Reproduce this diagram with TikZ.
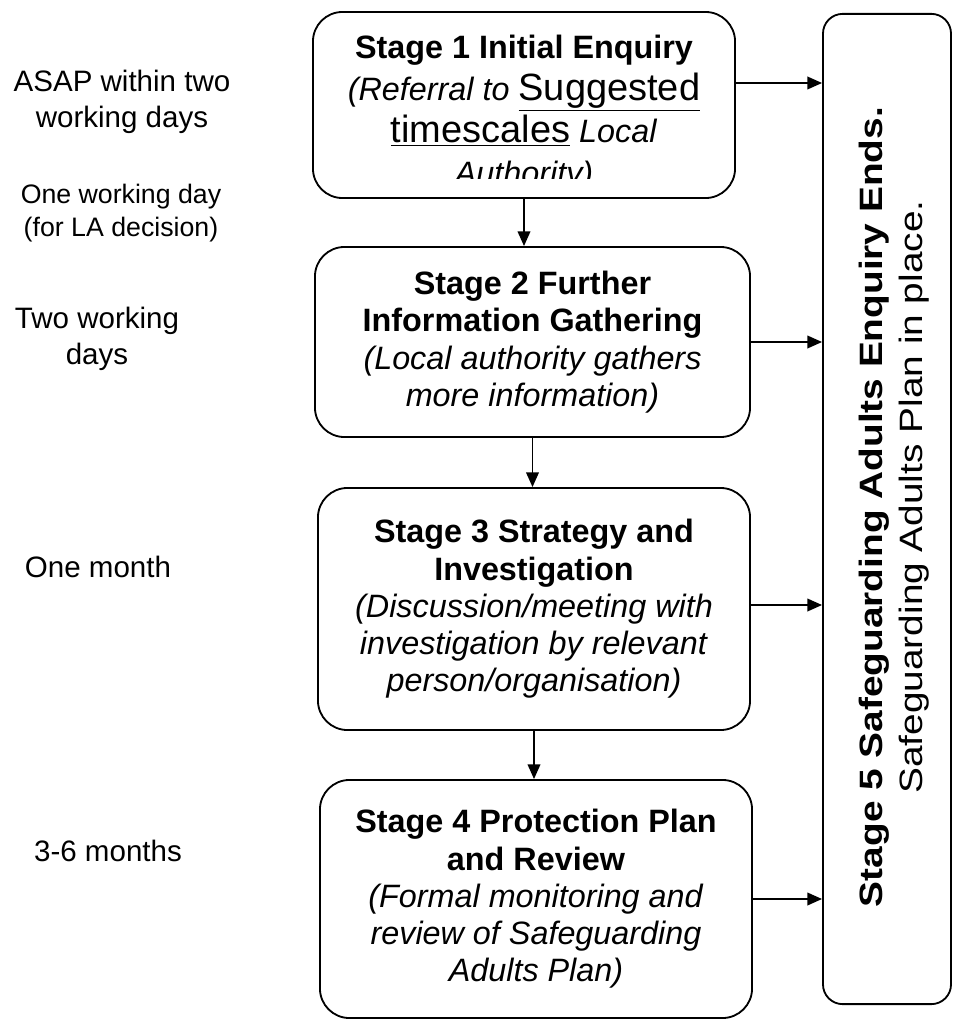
\documentclass[tikz,border=0pt]{standalone}
\usepackage{fontspec}
\setmainfont{Liberation Sans}
\usepackage{graphicx}
\usetikzlibrary{arrows.meta,calc}
\tikzstyle{stagebox}=[draw, line width=1.3pt, rounded corners=21pt, align=center, inner sep=0pt]
\tikzstyle{stagetext}=[align=center, font=\fontsize{23}{26.5}\selectfont]
\tikzstyle{timenote}=[align=center, font=\fontsize{21}{25.5}\selectfont]
\tikzstyle{flow}=[-{Triangle[length=10.5pt,width=9pt]}, line width=1.3pt]

\begin{document}
\begin{tikzpicture}[x=0.025cm,y=-0.025cm]
\useasboundingbox (0,0) rectangle (954,1020);
\node[stagebox, minimum width=10.55cm, minimum height=4.65cm] (s1) at (524,105) {};
\begin{scope}
\clip (s1.north west) rectangle ([yshift=0.5cm]s1.south east);
\node[stagetext, font=\fontsize{23}{30}\selectfont] (s1text) at (524,113) {\textbf{Stage 1 Initial Enquiry}\\
\textit{(Referral to} {\fontsize{27}{30}\selectfont\underline{Suggested}}\\
{\fontsize{27}{30}\selectfont\underline{timescales}} \textit{Local}\\
\textit{Authority)}};
\end{scope}
\node[stagebox, stagetext, minimum width=10.875cm, minimum height=4.75cm] (s2) at (532.5,342) {\textbf{Stage 2 Further}\\
\textbf{Information Gathering}\\
\textit{(Local authority gathers}\\
\textit{more information)}};
\node[stagebox, stagetext, minimum width=10.8cm, minimum height=6.05cm] (s3) at (534,609) {\textbf{Stage 3 Strategy and}\\
\textbf{Investigation}\\
\textit{(Discussion/meeting with}\\
\textit{investigation by relevant}\\
\textit{person/organisation)}};
\node[stagebox, stagetext, minimum width=10.8cm, minimum height=5.95cm] (s4) at (536,899) {\textbf{Stage 4 Protection Plan}\\
\textbf{and Review}\\
\textit{(Formal monitoring and}\\
\textit{review of Safeguarding}\\
\textit{Adults Plan)}};
\node[stagebox, rounded corners=14pt, minimum width=3.2cm, minimum height=24.75cm] (s5) at (887,509) {};
\node[rotate=90, anchor=base, font=\fontsize{23}{23}\selectfont\bfseries] (s5title) at (882,507) {\scalebox{1.2}[1]{Stage 5 Safeguarding Adults Enquiry Ends.}};
\node[rotate=90, anchor=base, font=\fontsize{23}{23}\selectfont] (s5note) at (922,497) {\scalebox{1.2}[1]{Safeguarding Adults Plan in place.}};

\node[timenote] (t1) at (122,102) {ASAP within two\\working days};
\node[timenote, font=\fontsize{19}{23.5}\selectfont] (t2) at (121,213) {One working day\\(for LA decision)};
\node[timenote] (t3) at (97,339) {Two working\\days};
\node[timenote] (t4) at (98,567) {One month};
\node[timenote] (t5) at (108,851) {3-6 months};

\draw[flow] (s1.south) -- (s1.south |- s2.north);
\draw[flow] (s2.south) -- (s2.south |- s3.north);
\draw[flow] (s3.south) -- (s3.south |- s4.north);
\coordinate (e1) at ([yshift=0.55cm]s1.east);
\coordinate (e3) at ([yshift=0.1cm]s3.east);
\draw[flow] (e1) -- (e1 -| s5.west);
\draw[flow] (s2.east) -- (s2.east -| s5.west);
\draw[flow] (e3) -- (e3 -| s5.west);
\draw[flow] (s4.east) -- (s4.east -| s5.west);
\end{tikzpicture}
\end{document}
